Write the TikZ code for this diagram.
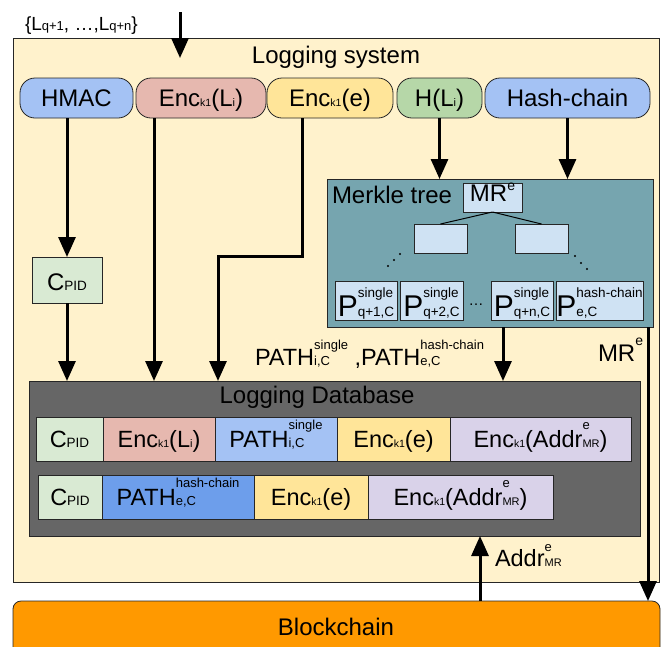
\documentclass[tikz,border=0pt]{standalone}
\usepackage{fontspec}
\setmainfont{Liberation Sans}
\usetikzlibrary{arrows.meta}

\definecolor{sysfill}{HTML}{FFF2CC}
\definecolor{pillblue}{HTML}{A4C2F4}
\definecolor{pillred}{HTML}{E6B8AF}
\definecolor{pillyellow}{HTML}{FFE599}
\definecolor{pillgreen}{HTML}{B6D7A8}
\definecolor{cidgreen}{HTML}{D9EAD3}
\definecolor{treeteal}{HTML}{76A5AF}
\definecolor{treebox}{HTML}{CFE2F3}
\definecolor{dbgray}{HTML}{666666}
\definecolor{pathblue}{HTML}{6D9EEB}
\definecolor{addrlilac}{HTML}{D9D2E9}
\definecolor{chainorange}{HTML}{FF9900}

% font size helpers
\newcommand\fsz[1]{\fontsize{#1}{#1}\selectfont}
\newcommand\sm[2]{{\fsz{#1}#2}}
% superscript stacked over a baseline subscript, left aligned
\newcommand\supsub[3]{%
  \begingroup
  \setbox0=\hbox{\raisebox{#1}{#2}}%
  \setbox2=\hbox{#3}%
  \ifdim\wd0>\wd2 \rlap{\box2}\box0 \else \rlap{\box0}\box2 \fi
  \endgroup}
\newcommand\EncK{Enc\sm{10.5}{k1}}
\newcommand\Lidx{L\sm{11}{i}}
\newcommand\Cpid{C\sm{13.5}{PID}}
\newcommand\AddrMR[1]{Addr\supsub{#1}{\sm{13}{e}}{\sm{11}{MR}}}

\begin{document}
\begin{tikzpicture}[x=1pt, y=-1pt,
  every node/.style={inner sep=0pt, outer sep=0pt, font=\fsz{24}},
  frame/.style={draw=black!85, line width=0.8pt},
  pill/.style={frame, rounded corners=15pt, minimum height=40pt, text height=17.4pt, text depth=0pt},
  cell/.style={frame, minimum height=44pt, text height=17.4pt, text depth=0pt, font=\fsz{23.5}},
  tbox/.style={frame, fill=treebox},
  leaf/.style={tbox, minimum height=39pt, text height=32pt, text depth=0pt, font=\fsz{30}},
  arr/.style={line width=3pt, -{Triangle[length=20pt,width=17pt]}},
  twig/.style={line width=1pt},
  treedot/.style={fill=black, circle, minimum size=2.4pt}
]
\useasboundingbox (0,0) rectangle (662,646);

% logging system frame
\node[frame, fill=sysfill, minimum width=646pt, minimum height=544pt] (sys) at (336,310) {};
\node[anchor=base] (systitle) at (336,63.3) {Logging system};

% incoming log entries
\node[anchor=base west, font=\fsz{19}] (input) at (25,30) {\{L\sm{13}{q+1},\ …,L\sm{13}{q+n}\}};
\coordinate (inTop) at (180,12);
\coordinate (inEnd) at (180,58);
\draw[arr] (inTop) -- (inEnd);

% processing steps
\node[pill, fill=pillblue, minimum width=113pt] (hmac) at (76.5,98) {HMAC};
\node[pill, fill=pillred, minimum width=130pt] (encL) at (201,98) {\EncK(\Lidx)};
\node[pill, fill=pillyellow, minimum width=126pt] (encE) at (330,98) {\EncK(e)};
\node[pill, fill=pillgreen, minimum width=85pt] (hashL) at (439.5,98) {H(\Lidx)};
\node[pill, fill=pillblue, minimum width=165pt] (chain) at (567.5,98) {Hash-chain};

\node[frame, fill=cidgreen, minimum width=70pt, minimum height=46pt, text height=20pt, text depth=0pt] (cpid) at (67,280) {\Cpid};

% Merkle tree
\node[frame, fill=treeteal, minimum width=326pt, minimum height=148pt] (mt) at (490,253) {};
\node[anchor=base west] (mttitle) at (332,203.3) {Merkle tree};
\node[tbox, minimum width=59pt, minimum height=29pt, text height=8.4pt, text depth=0pt] (mr) at (492.5,197.5) {MR\raisebox{11pt}{\sm{14}{e}}};
\node[tbox, minimum width=53pt, minimum height=29pt] (midL) at (440.5,238.5) {};
\node[tbox, minimum width=53pt, minimum height=29pt] (midR) at (541.5,238.5) {};
\draw[twig] (mr.south) -- (midL.north);
\draw[twig] (mr.south) -- (midR.north);
\node[treedot] (dl1) at (388,266) {};
\node[treedot] (dl2) at (394,260) {};
\node[treedot] (dl3) at (400,254) {};
\node[treedot] (dr1) at (575,256) {};
\node[treedot] (dr2) at (581,263) {};
\node[treedot] (dr3) at (587,269) {};
\node[leaf, minimum width=62pt] (p1) at (366,300.5) {P\supsub{19pt}{\sm{13.5}{single}}{\sm{13.5}{q+1,C}}};
\node[leaf, minimum width=63pt] (p2) at (431.5,300.5) {P\supsub{19pt}{\sm{13.5}{single}}{\sm{13.5}{q+2,C}}};
\node[anchor=base, font=\fsz{15}] (gap) at (476,305) {…};
\node[leaf, minimum width=62pt] (p3) at (522,300.5) {P\supsub{19pt}{\sm{13.5}{single}}{\sm{13.5}{q+n,C}}};
\node[leaf, minimum width=87pt] (p4) at (599.5,300.5) {P\supsub{19pt}{\sm{13.5}{hash-chain}}{\sm{13.5}{e,C}}};

% logging database
\node[frame, fill=dbgray, minimum width=611pt, minimum height=155pt] (db) at (334.5,458.5) {};
\node[anchor=base] (dbtitle) at (317,403.3) {Logging Database};

\node[cell, fill=cidgreen, minimum width=67pt] (r1a) at (69.5,439) {\Cpid};
\node[cell, fill=pillred, minimum width=112pt] (r1b) at (159,439) {\EncK(\Lidx)};
\node[cell, fill=pillblue, minimum width=122pt] (r1c) at (276,439) {PATH\supsub{18.5pt}{\sm{13}{single}}{\sm{13}{i,C}}};
\node[cell, fill=pillyellow, minimum width=113pt] (r1d) at (393.5,439) {\EncK(e)};
\node[cell, fill=addrlilac, minimum width=181pt] (r1e) at (540.5,439) {\EncK(\AddrMR{18pt})};

\node[cell, fill=cidgreen, minimum width=64pt] (r2a) at (70,497) {\Cpid};
\node[cell, fill=pathblue, minimum width=152pt] (r2b) at (178,497) {PATH\supsub{18.5pt}{\sm{13}{hash-chain}}{\sm{13}{e,C}}};
\node[cell, fill=pillyellow, minimum width=114pt] (r2c) at (311,497) {\EncK(e)};
\node[cell, fill=addrlilac, minimum width=185pt] (r2d) at (460.5,497) {\EncK(\AddrMR{18pt})};

% blockchain
\begin{scope}
  \clip (0,0) rectangle (662,646);
  \node[frame, fill=chainorange, rounded corners=8pt, minimum width=647pt, minimum height=70pt, anchor=north] (ledger) at (336.5,601) {};
\end{scope}
\node[anchor=base] (ledgertext) at (336,635) {Blockchain};

% data flow
\draw[arr] (hmac.south -| cpid.north) -- (cpid.north);
\draw[arr] (cpid.south) -- (cpid.south |- db.north);
\coordinate (encLx) at (154,0);
\draw[arr] (encL.south -| encLx) -- (encLx |- db.north);
\coordinate (encEcorner) at (302,256);
\coordinate (encEbend) at (218,256);
\draw[arr] (encE.south -| encEcorner) -- (encEcorner) -- (encEbend) -- (encEbend |- db.north);
\draw[arr] (hashL.south) -- (hashL.south |- mt.north);
\draw[arr] (chain.south) -- (chain.south |- mt.north);
\coordinate (pathx) at (503,0);
\draw[arr] (mt.south -| pathx) -- (pathx |- db.north);
\coordinate (mrx) at (648,0);
\draw[arr] (mt.south -| mrx) -- (mrx |- ledger.north);
\coordinate (addrx) at (480,0);
\draw[arr] (ledger.north -| addrx) -- (addrx |- db.south);

% flow labels
\node[anchor=base west, font=\fsz{23.5}] (pathlabel) at (255,365) {PATH\supsub{15.7pt}{\sm{13}{single}}{\sm{13}{i,C}}\ ,PATH\supsub{15.7pt}{\sm{13}{hash-chain}}{\sm{13}{e,C}}};
\node[anchor=base west] (mrlabel) at (598,361.7) {MR\raisebox{16.7pt}{\sm{14}{e}}};
\node[anchor=base west, font=\fsz{23.5}] (addrlabel) at (495,566.7) {\AddrMR{15pt}};
\end{tikzpicture}
\end{document}
